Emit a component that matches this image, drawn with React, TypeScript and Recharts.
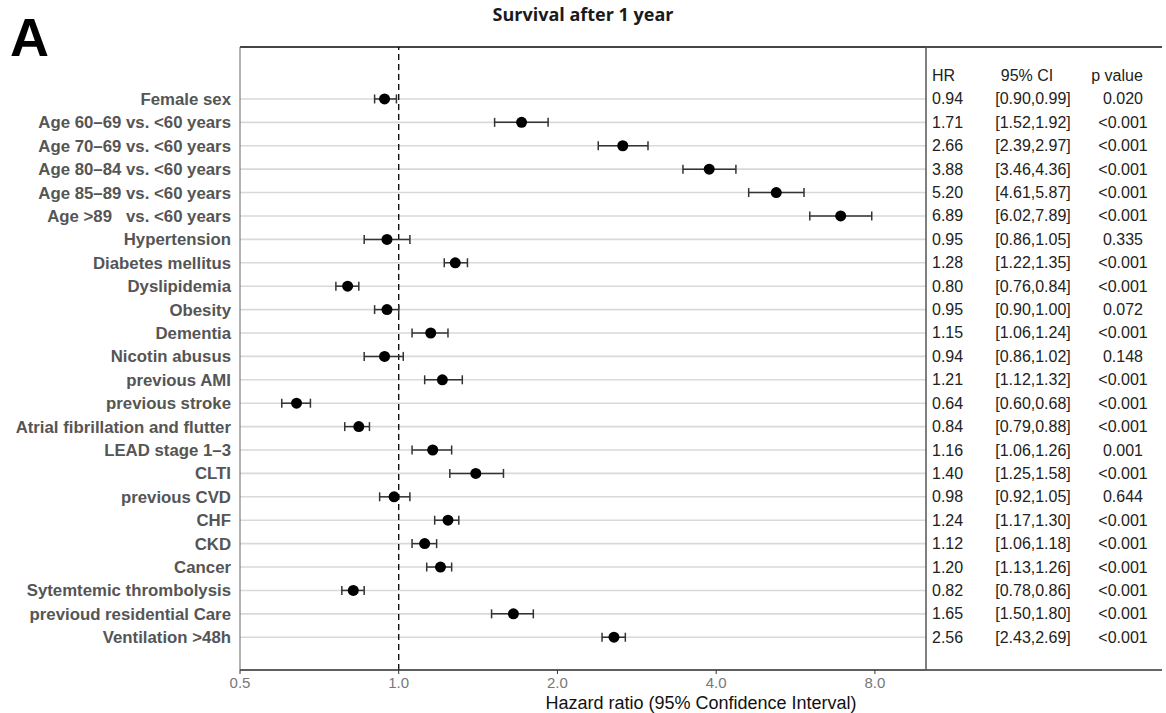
import React from 'react';
import {
  ScatterChart,
  Scatter,
  XAxis,
  YAxis,
  CartesianGrid,
  ReferenceLine,
  ErrorBar,
  useOffset,
  useChartWidth,
  useChartHeight,
} from 'recharts';

const labels = [
  'Female sex',
  'Age 60–69 vs. <60 years',
  'Age 70–69 vs. <60 years',
  'Age 80–84 vs. <60 years',
  'Age 85–89 vs. <60 years',
  'Age >89   vs. <60 years',
  'Hypertension',
  'Diabetes mellitus',
  'Dyslipidemia',
  'Obesity',
  'Dementia',
  'Nicotin abusus',
  'previous AMI',
  'previous stroke',
  'Atrial fibrillation and flutter',
  'LEAD stage 1–3',
  'CLTI',
  'previous CVD',
  'CHF',
  'CKD',
  'Cancer',
  'Sytemtemic thrombolysis',
  'previoud residential Care',
  'Ventilation >48h',
];

const hr = [0.94, 1.71, 2.66, 3.88, 5.2, 6.89, 0.95, 1.28, 0.8, 0.95, 1.15, 0.94, 1.21, 0.64, 0.84, 1.16, 1.4, 0.98, 1.24, 1.12, 1.2, 0.82, 1.65, 2.56];
const ciLow = [0.9, 1.52, 2.39, 3.46, 4.61, 6.02, 0.86, 1.22, 0.76, 0.9, 1.06, 0.86, 1.12, 0.6, 0.79, 1.06, 1.25, 0.92, 1.17, 1.06, 1.13, 0.78, 1.5, 2.43];
const ciHigh = [0.99, 1.92, 2.97, 4.36, 5.87, 7.89, 1.05, 1.35, 0.84, 1.0, 1.24, 1.02, 1.32, 0.68, 0.88, 1.26, 1.58, 1.05, 1.3, 1.18, 1.26, 0.86, 1.8, 2.69];
const pValues = ['0.020', '<0.001', '<0.001', '<0.001', '<0.001', '<0.001', '0.335', '<0.001', '<0.001', '0.072', '<0.001', '0.148', '<0.001', '<0.001', '<0.001', '0.001', '<0.001', '0.644', '<0.001', '<0.001', '<0.001', '<0.001', '<0.001', '<0.001'];

const tableHeaders = ['HR', '95% CI', 'p value'];
const xTicks = [0.5, 1, 2, 4, 8];
const xDomain = [0.5, 10];
const rowTicks = labels.map((_, i) => i);
const tableTicks = [-1, ...rowTicks];
const title = 'Survival after 1 year';
const panelLetter = 'A';
const xTitle = 'Hazard ratio (95% Confidence Interval)';

const data = labels.map((label, i) => ({
  row: i,
  label,
  hr: hr[i],
  err: [hr[i] - ciLow[i], ciHigh[i] - hr[i]],
}));

const FONT = '"Liberation Sans", Arial, Helvetica, sans-serif';
const Y_DOMAIN = [-2.22, 24.4];

const LeftTick = (props: any) => {
  const { x, y, payload } = props;
  return (
    <text
      x={x}
      y={y}
      dy={6}
      textAnchor="end"
      fontFamily={FONT}
      fontWeight="bold"
      fontSize={16.8}
      fill="#555555"
      style={{ whiteSpace: 'pre' }}
    >
      {labels[payload.value]}
    </text>
  );
};

const TableTick = (props: any) => {
  const { x, y, payload } = props;
  const i = payload.value;
  const common = { fontFamily: FONT, fontSize: 16, fill: '#222222', dy: 5.5 };
  if (i < 0) {
    return (
      <g>
        <text x={x} y={y} textAnchor="start" {...common}>{tableHeaders[0]}</text>
        <text x={x + 95} y={y} textAnchor="middle" {...common}>{tableHeaders[1]}</text>
        <text x={x + 185} y={y} textAnchor="middle" {...common}>{tableHeaders[2]}</text>
      </g>
    );
  }
  return (
    <g>
      <text x={x} y={y} textAnchor="start" {...common}>{hr[i].toFixed(2)}</text>
      <text x={x + 101} y={y} textAnchor="middle" {...common}>
        {`[${ciLow[i].toFixed(2)},${ciHigh[i].toFixed(2)}]`}
      </text>
      <text x={x + 191} y={y} textAnchor="middle" {...common}>{pValues[i]}</text>
    </g>
  );
};

const Frame = () => {
  const offset: any = useOffset();
  const w = useChartWidth();
  const h = useChartHeight();
  if (!offset || !w || !h) return null;
  const left = offset.left;
  const top = offset.top;
  const bottom = h - offset.bottom;
  const plotRight = w - offset.right;
  const farRight = w - 4;
  return (
    <g>
      <line x1={left} y1={top} x2={farRight} y2={top} stroke="#111" strokeWidth={1.6} />
      <line x1={plotRight} y1={bottom} x2={farRight} y2={bottom} stroke="#333" strokeWidth={1.5} />
      <text
        x={(left + plotRight) / 2}
        y={21}
        textAnchor="middle"
        fontFamily='"Open Sans", sans-serif'
        fontWeight="bold"
        fontSize={18}
        fill="#1a1a1a"
      >
        {title}
      </text>
      <text x={10} y={56} fontFamily={FONT} fontWeight="bold" fontSize={54} fill="#000">
        {panelLetter}
      </text>
      <text
        x={(left + farRight) / 2}
        y={709}
        textAnchor="middle"
        fontFamily={FONT}
        fontSize={18}
        fill="#111"
      >
        {xTitle}
      </text>
    </g>
  );
};

const Dot = (props: any) => <circle cx={props.cx} cy={props.cy} r={5.5} fill="#000" />;

export default function App() {
  return (
    <div style={{ position: 'absolute', left: 0, top: 0, width: 1166, height: 713, background: '#fff' }}>
      <ScatterChart width={1166} height={713} margin={{ top: 47, right: 0, bottom: 0, left: 0 }}>
        <CartesianGrid yAxisId="left" horizontal vertical={false} stroke="#d9d9d9" strokeWidth={1.6} />
        <XAxis
          type="number"
          dataKey="hr"
          scale="log"
          domain={xDomain}
          allowDataOverflow
          ticks={xTicks}
          interval={0}
          tickFormatter={(v: number) => v.toFixed(1)}
          height={43}
          tickSize={4}
          tickMargin={3}
          stroke="#333"
          axisLine={{ stroke: '#333', strokeWidth: 1.5 }}
          tickLine={{ stroke: '#333' }}
          tick={{ fill: '#777', fontSize: 15, fontFamily: FONT }}
        />
        <YAxis
          yAxisId="left"
          type="number"
          dataKey="row"
          domain={Y_DOMAIN}
          allowDataOverflow
          reversed
          ticks={rowTicks}
          interval={0}
          width={240}
          tickSize={0}
          tickMargin={9}
          tickLine={false}
          axisLine={{ stroke: '#666', strokeWidth: 1 }}
          tick={<LeftTick />}
        />
        <YAxis
          yAxisId="table"
          orientation="right"
          type="number"
          domain={Y_DOMAIN}
          allowDataOverflow
          reversed
          ticks={tableTicks}
          interval={0}
          width={240}
          tickSize={0}
          tickMargin={6}
          tickLine={false}
          axisLine={{ stroke: '#555', strokeWidth: 1.5 }}
          tick={<TableTick />}
        />
        <ReferenceLine yAxisId="left" x={1} stroke="#000" strokeWidth={1.3} strokeDasharray="6 4" />
        <Scatter yAxisId="left" data={data} dataKey="hr" shape={<Dot />} isAnimationActive={false}>
          <ErrorBar dataKey="err" direction="x" width={4.5} stroke="#333" strokeWidth={1.5} />
        </Scatter>
        <Frame />
      </ScatterChart>
    </div>
  );
}
